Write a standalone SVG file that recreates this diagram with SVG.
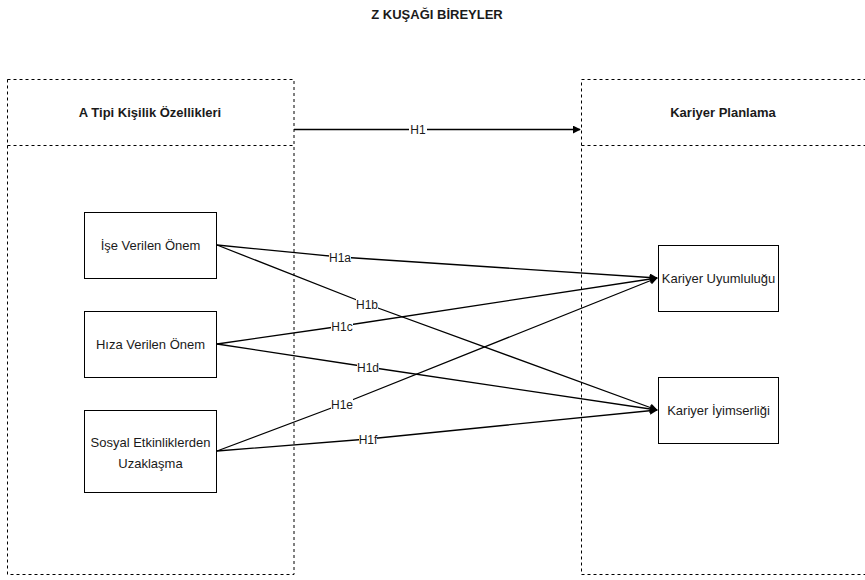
<svg xmlns="http://www.w3.org/2000/svg" width="865" height="580" viewBox="0 0 865 580">
<style>
.t{font-family:"Liberation Sans",Arial,sans-serif;font-size:13px;fill:#1a1a1a;text-anchor:middle;dominant-baseline:central}
.s{font-size:12px}
.b{font-weight:bold}
.dash{fill:none;stroke:#000;stroke-width:1;stroke-dasharray:3 3}
.node{fill:#fff;stroke:#000;stroke-width:1}
.edge{fill:none;stroke:#000;stroke-width:1.3}
.lbl{fill:#fff}
</style>
<defs>
<marker id="arr" viewBox="0 0 10 10" refX="9" refY="5" markerWidth="8" markerHeight="8" markerUnits="userSpaceOnUse" orient="auto">
<path d="M0,0 L10,5 L0,10 Z" fill="#000"/>
</marker>
</defs>
<rect width="865" height="580" fill="#fff"/>
<text class="t b" x="437" y="14">Z KUŞAĞI BİREYLER</text>

<g id="left-container">
<rect class="dash" x="7.5" y="79.5" width="286.5" height="495"/>
<line class="dash" x1="7.5" y1="145.5" x2="294" y2="145.5"/>
<text class="t b" x="150" y="112">A Tipi Kişilik Özellikleri</text>
</g>
<g id="right-container">
<rect class="dash" x="581.5" y="79.5" width="300" height="495"/>
<line class="dash" x1="581.5" y1="145.5" x2="870" y2="145.5"/>
<text class="t b" x="723" y="112">Kariyer Planlama</text>
</g>

<g id="connectors">
<line class="edge" x1="294" y1="129.5" x2="580" y2="129.5" marker-end="url(#arr)"/>
<rect class="lbl" x="409" y="123" width="18" height="14"/>
<text class="t s" x="418" y="130">H1</text>

<polyline class="edge" points="217,245 340,257 657,278" marker-end="url(#arr)"/>
<polyline class="edge" points="217,245 367,304 657,410" marker-end="url(#arr)"/>
<polyline class="edge" points="217,344 342,326 657,278" marker-end="url(#arr)"/>
<polyline class="edge" points="217,344 368,367 657,410" marker-end="url(#arr)"/>
<polyline class="edge" points="217,451 342,404 657,278" marker-end="url(#arr)"/>
<polyline class="edge" points="217,451 368,439 657,410" marker-end="url(#arr)"/>

<rect class="lbl" x="329" y="251" width="22" height="13"/>
<text class="t s" x="340" y="258">H1a</text>
<rect class="lbl" x="356" y="298" width="22" height="13"/>
<text class="t s" x="367" y="305">H1b</text>
<rect class="lbl" x="331" y="320" width="22" height="13"/>
<text class="t s" x="342" y="327">H1c</text>
<rect class="lbl" x="357" y="361" width="22" height="13"/>
<text class="t s" x="368" y="368">H1d</text>
<rect class="lbl" x="331" y="398" width="22" height="13"/>
<text class="t s" x="342" y="405">H1e</text>
<rect class="lbl" x="359" y="433" width="18" height="13"/>
<text class="t s" x="368" y="440">H1f</text>
</g>

<g id="n-ise">
<rect class="node" x="84.5" y="212.5" width="132" height="66"/>
<text class="t" x="150.5" y="245">İşe Verilen Önem</text>
</g>
<g id="n-hiza">
<rect class="node" x="84.5" y="311.5" width="132" height="66"/>
<text class="t" x="150.5" y="344">Hıza Verilen Önem</text>
</g>
<g id="n-sosyal">
<rect class="node" x="84.5" y="410.5" width="132" height="82"/>
<text class="t" x="150.5" y="442">Sosyal Etkinliklerden</text>
<text class="t" x="150.5" y="463">Uzaklaşma</text>
</g>
<g id="n-uyum">
<rect class="node" x="658.5" y="245.5" width="120" height="66"/>
<text class="t" x="718.5" y="278">Kariyer Uyumluluğu</text>
</g>
<g id="n-iyimser">
<rect class="node" x="658.5" y="377.5" width="120" height="66"/>
<text class="t" x="718.5" y="410">Kariyer İyimserliği</text>
</g>
</svg>
